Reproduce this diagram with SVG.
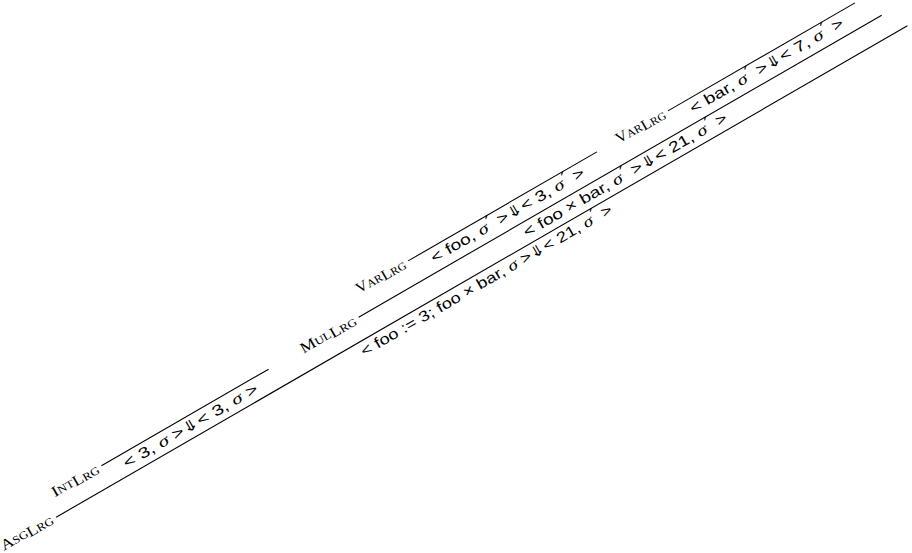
<svg xmlns="http://www.w3.org/2000/svg" width="912" height="553" viewBox="0 0 912 553">
<style>
.j{font-family:"Liberation Sans","DejaVu Sans",sans-serif;font-size:15px;fill:#000;text-anchor:middle}
.s{font-family:"Liberation Serif","DejaVu Serif",serif;font-style:italic;font-size:16px}
.p{font-family:"DejaVu Sans",sans-serif;font-size:17px}
.lab{font-family:"Liberation Serif","DejaVu Serif",serif;font-size:15px;fill:#000;text-anchor:end}
.sc{font-size:11px}
.r{stroke:#000;stroke-width:1.1;fill:none}
</style>
<rect width="912" height="553" fill="#fff"/>
<g transform="rotate(-30)">
  <g id="rules">
    <line class="r" x1="-210" y1="476" x2="773" y2="476"/>
    <line class="r" x1="-145" y1="454" x2="48" y2="454"/>
    <line class="r" x1="152" y1="454" x2="756" y2="454"/>
    <line class="r" x1="223" y1="430" x2="441" y2="430"/>
    <line class="r" x1="523" y1="430" x2="739" y2="430"/>
    <text class="lab" x="-214" y="479" textLength="58" lengthAdjust="spacingAndGlyphs">A<tspan class="sc">SG</tspan><tspan dy="1.5">L</tspan><tspan class="sc">RG</tspan></text>
    <text class="lab" x="-149" y="458" textLength="52" lengthAdjust="spacingAndGlyphs">I<tspan class="sc">NT</tspan><tspan dy="1.5">L</tspan><tspan class="sc">RG</tspan></text>
    <text class="lab" x="148" y="458" textLength="62" lengthAdjust="spacingAndGlyphs">M<tspan class="sc">UL</tspan><tspan dy="1.5">L</tspan><tspan class="sc">RG</tspan></text>
    <text class="lab" x="219" y="434" textLength="55" lengthAdjust="spacingAndGlyphs">V<tspan class="sc">AR</tspan><tspan dy="1.5">L</tspan><tspan class="sc">RG</tspan></text>
    <text class="lab" x="519" y="434" textLength="55" lengthAdjust="spacingAndGlyphs">V<tspan class="sc">AR</tspan><tspan dy="1.5">L</tspan><tspan class="sc">RG</tspan></text>
  </g>
  <g id="asg">
    <text class="j" x="281" y="491" textLength="288" lengthAdjust="spacingAndGlyphs">&lt; foo := 3; foo × bar, <tspan class="s">σ</tspan> &gt;⇓&lt; 21, <tspan class="s">σ</tspan><tspan class="p" dx="1" dy="-3">′</tspan><tspan dy="3"> &gt;</tspan></text>
  </g>
  <g id="int">
    <text class="j" x="-48" y="469" textLength="153" lengthAdjust="spacingAndGlyphs">&lt; 3, <tspan class="s">σ</tspan> &gt;⇓&lt; 3, <tspan class="s">σ</tspan> &gt;</text>
  </g>
  <g id="mul">
    <text class="j" x="454" y="469" textLength="233" lengthAdjust="spacingAndGlyphs">&lt; foo × bar, <tspan class="s">σ</tspan><tspan class="p" dx="1" dy="-3">′</tspan><tspan dy="3"> &gt;⇓&lt; 21, </tspan><tspan class="s">σ</tspan><tspan class="p" dx="1" dy="-3">′</tspan><tspan dy="3"> &gt;</tspan></text>
  </g>
  <g id="var-foo">
    <text class="j" x="332" y="445" textLength="175" lengthAdjust="spacingAndGlyphs">&lt; foo, <tspan class="s">σ</tspan><tspan class="p" dx="1" dy="-3">′</tspan><tspan dy="3"> &gt;⇓&lt; 3, </tspan><tspan class="s">σ</tspan><tspan class="p" dx="1" dy="-3">′</tspan><tspan dy="3"> &gt;</tspan></text>
  </g>
  <g id="var-bar">
    <text class="j" x="631" y="445" textLength="175" lengthAdjust="spacingAndGlyphs">&lt; bar, <tspan class="s">σ</tspan><tspan class="p" dx="1" dy="-3">′</tspan><tspan dy="3"> &gt;⇓&lt; 7, </tspan><tspan class="s">σ</tspan><tspan class="p" dx="1" dy="-3">′</tspan><tspan dy="3"> &gt;</tspan></text>
  </g>
</g>
</svg>
